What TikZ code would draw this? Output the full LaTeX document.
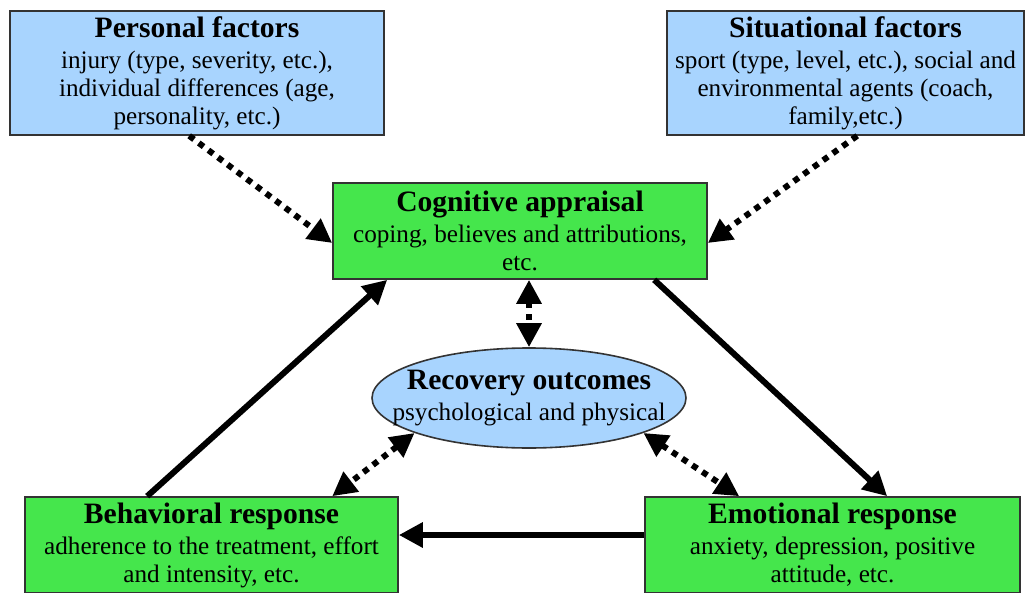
\documentclass[tikz,border=0pt]{standalone}
\usepackage{fontspec}
\setmainfont{Liberation Serif}
\usetikzlibrary{shapes.geometric,calc,arrows.meta}

\definecolor{factorblue}{RGB}{168,212,254}
\definecolor{responsegreen}{RGB}{69,230,76}

\tikzset{
    factor/.style={
        rectangle, draw=black!80, line width=0.8pt, fill=factorblue,
        inner sep=0pt, align=center,
        font=\fontsize{12.6}{14}\selectfont,
    },
    response/.style={
        factor, fill=responsegreen,
    },
    dotlink/.style={
        line width=3pt, dash pattern=on 3pt off 3pt,
        -{Triangle[length=12pt,width=12pt]},
    },
    solidlink/.style={
        line width=3pt,
        -{Triangle[length=12pt,width=12pt]},
    },
}
\newcommand{\boxtitle}[1]{{\fontsize{14.8}{16}\selectfont\bfseries #1}\\[1.5pt]}

\begin{document}
\begin{tikzpicture}[x=0.5pt,y=-0.5pt]

    \useasboundingbox (0,0) rectangle (1032,593);

    \node
        [ factor,
            minimum width=187pt,
            minimum height=62pt,
        ] (pers) at (197,73) {\boxtitle{Personal factors}injury (type, severity, etc.),\\ individual differences (age,\\ personality, etc.)};

    \node
        [ factor,
            minimum width=178.5pt,
            minimum height=62pt,
        ] (situ) at (845.5,73) {\boxtitle{Situational factors}sport (type, level, etc.), social and\\ environmental agents (coach,\\ family,etc.)};

    \node
        [ response,
            minimum width=187pt,
            minimum height=48pt,
        ] (cog) at (520,231) {\boxtitle{Cognitive appraisal}coping, believes and attributions,\\ etc.};

    \node
        [ ellipse,
            draw=black!80,
            line width=0.8pt,
            fill=factorblue,
            minimum width=157pt,
            minimum height=50pt,
            inner xsep=-14pt,
            inner ysep=0pt,
            align=center,
            font=\fontsize{12.6}{14}\selectfont,
        ] (rec) at (529,398) {\boxtitle{Recovery outcomes}psychological and physical};

    \node
        [ response,
            minimum width=186.5pt,
            minimum height=48pt,
        ] (beh) at (211.5,545) {\boxtitle{Behavioral response}adherence to the treatment, effort\\ and intensity, etc.};

    \node
        [ response,
            minimum width=187.5pt,
            minimum height=48pt,
        ] (emo) at (832.5,545) {\boxtitle{Emotional response}anxiety, depression, positive\\ attitude, etc.};

    % dotted influences
    \draw [dotlink] ($(pers.south west)+(180,0)$) -- ($(cog.west)+(0,12)$);
    \draw [dotlink] ($(situ.south west)+(191,0)$) -- ($(cog.east)+(0,12)$);
    \draw [dotlink, {Triangle[length=12pt,width=12pt]}-{Triangle[length=12pt,width=12pt]}] (rec.north |- cog.south) -- (rec.north);
    \draw [dotlink, {Triangle[length=12pt,width=12pt]}-{Triangle[length=12pt,width=12pt]}] (rec.197) -- ($(beh.north west)+(308,0)$);
    \draw [dotlink, {Triangle[length=12pt,width=12pt]}-{Triangle[length=12pt,width=12pt]}] (rec.-17) -- ($(emo.north west)+(95,0)$);

    % solid cycle
    \draw [solidlink] ($(beh.north west)+(123,0)$) -- ($(cog.south west)+(55,0)$);
    \draw [solidlink] ($(cog.south west)+(322,0)$) -- ($(emo.north west)+(243,0)$);
    \draw [solidlink] ($(emo.west)+(0,-10)$) -- ($(beh.east)+(0,-10)$);

\end{tikzpicture}
\end{document}
